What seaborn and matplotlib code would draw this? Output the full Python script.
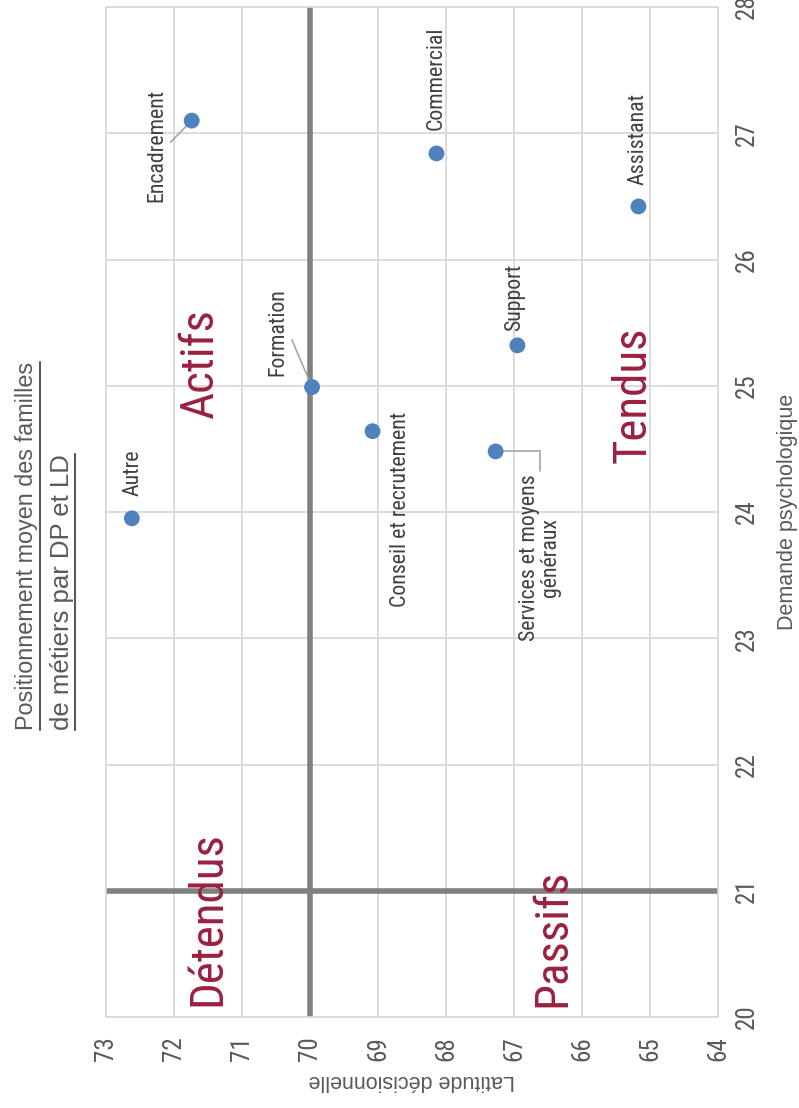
import matplotlib
matplotlib.use("Agg")
import pandas as pd
import matplotlib.pyplot as plt
import seaborn as sns
from matplotlib import font_manager as fm
from matplotlib.lines import Line2D

# Données
familles = ["Encadrement", "Commercial", "Assistanat", "Formation",
            "Conseil et recrutement", "Support",
            "Services et moyens\ngénéraux", "Autre"]
demande = [27.10, 26.84, 26.42, 24.99, 24.64, 25.32, 24.48, 23.95]
latitude = [71.74, 68.14, 65.17, 69.97, 69.08, 66.95, 67.27, 72.62]
ld_ticks = list(range(64, 74))
dp_ticks = list(range(20, 29))
seuil_ld = 70
seuil_dp = 21

df = pd.DataFrame({"famille": familles, "DP": demande, "LD": latitude})

sns.set_style("white")
noms = {f.name for f in fm.fontManager.ttflist}
narrow = next((n for n in ["Liberation Sans Narrow", "Arial Narrow", "Roboto Condensed"]
               if n in noms), "Liberation Sans")
plt.rcParams["font.family"] = ["Liberation Sans", "DejaVu Sans"]

GRIS = "#595959"
ROUGE = "#9B2040"
taille_ticks = 18 if narrow != "Liberation Sans" else 15

fig = plt.figure(figsize=(7.99, 11.08), dpi=100)
ax = fig.add_axes([106 / 799, 1 - 1017 / 1108, 612 / 799, 1010 / 1108])
rend = fig.canvas.get_renderer()


def ajuster(t, longueur):
    # taille de police pour obtenir la longueur (px) du texte pivoté
    h = t.get_window_extent(rend).height
    t.set_fontsize(t.get_fontsize() * longueur / h)


sns.scatterplot(data=df, x="LD", y="DP", ax=ax, s=130, color="#4F81BD",
                edgecolor="none", zorder=5)

ax.set_xlim(73, 64)
ax.set_ylim(20, 28)
ax.set_xticks(ld_ticks)
ax.set_yticks(dp_ticks)
ax.grid(True, color="#D9D9D9", lw=1.3)
ax.set_axisbelow(True)
for sp in ax.spines.values():
    sp.set_color("#D9D9D9")
    sp.set_linewidth(1.3)

# axes des quadrants
ax.axvline(seuil_ld, color="#808080", lw=4, zorder=2)
ax.axhline(seuil_dp, color="#808080", lw=4, zorder=2)

ax.yaxis.tick_right()
ax.yaxis.set_label_position("right")
ax.tick_params(axis="x", length=0, pad=14, labelsize=taille_ticks,
               labelcolor=GRIS, labelrotation=90)
ax.tick_params(axis="y", length=0, pad=12, labelsize=taille_ticks,
               labelcolor=GRIS, labelrotation=90)
for lab in ax.get_xticklabels() + ax.get_yticklabels():
    lab.set_fontfamily(narrow)
for lab in ax.get_yticklabels():
    lab.set_va("center")

ax.set_xlabel("Latitude décisionnelle", rotation=180, fontsize=15.5,
              color=GRIS, labelpad=6)
ax.set_ylabel("Demande psychologique", rotation=90, fontsize=15.5,
              color=GRIS, labelpad=13)

# étiquettes des points (décalage en pixels)
decalages = {
    "Encadrement": (-35, -25),
    "Commercial": (0, 75),
    "Assistanat": (0, 68),
    "Formation": (-34, 55),
    "Conseil et recrutement": (28, -78),
    "Support": (-3, 48),
    "Services et moyens\ngénéraux": (44, -106),
    "Autre": (1, 46),
}
trait = dict(arrowstyle="-", color="#A6A6A6", lw=1.2, shrinkA=0, shrinkB=0)
etiquettes = []
for nom, x, y in zip(familles, latitude, demande):
    fleche = None
    if nom in ("Encadrement", "Formation"):
        fleche = dict(trait, relpos=(1, 0.5))
    elif nom.startswith("Services"):
        fleche = dict(trait, relpos=(0.5, 1),
                      connectionstyle="angle,angleA=90,angleB=0,rad=0")
    a = ax.annotate(nom, xy=(x, y), xytext=decalages[nom],
                    textcoords="offset pixels", rotation=90, ha="center",
                    va="center", fontsize=17, color="#404040", family=narrow,
                    linespacing=1.0, arrowprops=fleche, zorder=4)
    etiquettes.append(a)
# même taille pour toutes : calée sur « Conseil et recrutement »
h_ref = etiquettes[4].get_window_extent(rend).height
for a in etiquettes:
    a.set_fontsize(17 * 196 / h_ref)

# noms des quadrants
quadrants = [("Actifs", 71.62, 25.18), ("Détendus", 71.51, 20.78),
             ("Passifs", 66.44, 20.63), ("Tendus", 65.25, 24.93)]
textes_q = [ax.text(x, y, nom, rotation=90, ha="center", va="center",
                    fontsize=36, color=ROUGE, family=narrow, zorder=6)
            for nom, x, y in quadrants]
h_q = textes_q[1].get_window_extent(rend).height
for t in textes_q:
    t.set_fontsize(36 * 175 / h_q)

# titre souligné
t1 = fig.text(27 / 799, 1 - 730 / 1108, "Positionnement moyen des familles",
              rotation=90, ha="center", va="bottom", fontsize=16, color=GRIS)
t2 = fig.text(62 / 799, 1 - 730 / 1108, "de métiers par DP et LD",
              rotation=90, ha="center", va="bottom", fontsize=16, color=GRIS)
ajuster(t1, 368)
t2.set_fontsize(t1.get_fontsize() * 1.1)
inv = fig.transFigure.inverted()
for t in (t1, t2):
    bb = t.get_window_extent(rend)
    (xa, ya), (xb, yb) = inv.transform([(bb.x1 + 1, bb.y0), (bb.x1 + 1, bb.y1)])
    fig.add_artist(Line2D([xa, xb], [ya, yb], transform=fig.transFigure,
                          color=GRIS, lw=1.5))

fig.savefig("out.png", dpi=100)
